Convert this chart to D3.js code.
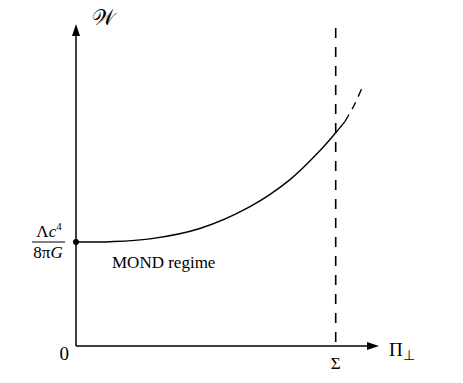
<!DOCTYPE html>
<html>
<head>
<meta charset="utf-8">
<script src="https://cdn.jsdelivr.net/npm/d3@7"></script>
<style>
  body { margin: 0; background: #fff; }
</style>
</head>
<body>
<div id="chart"></div>
<script>
// curve samples (Pi_perp in units of Sigma, W in units of Lambda c^4 / 8 pi G)
var piValues = [0, 0.13, 0.285, 0.477, 0.67, 0.824, 0.94, 1.0, 1.036, 1.07, 1.101];
var wValues  = [1.0, 1.003, 1.03, 1.13, 1.34, 1.6, 1.88, 2.05, 2.16, 2.31, 2.48];
var solidEnd = 1.036;       // after this the curve goes on dashed
var sigmaValue = 1.0;       // the dashed vertical line
var regimeLabel = "MOND regime";

var width = 463, height = 383;
var x = d3.scaleLinear().domain([0, 1]).range([76, 335.7]);
var y = d3.scaleLinear().domain([0, 1]).range([346, 242]);

var svg = d3.select("#chart").append("svg")
    .attr("width", width)
    .attr("height", height);

function label(px, py, size, anchor) {
    return svg.append("text")
        .attr("x", px).attr("y", py)
        .attr("text-anchor", anchor || "start")
        .attr("style", "font-family:'Liberation Serif'; font-size:" + size + "px");
}

// axes with arrow heads
svg.append("line")
    .attr("x1", x(0)).attr("y1", y(0))
    .attr("x2", x(0)).attr("y2", 34)
    .attr("stroke", "#000").attr("stroke-width", 1.5);
svg.append("path")
    .attr("d", "M" + x(0) + ",24 L" + (x(0) - 4) + ",36 L" + (x(0) + 4) + ",36 Z")
    .attr("fill", "#000");

svg.append("line")
    .attr("x1", x(0)).attr("y1", y(0))
    .attr("x2", 368).attr("y2", y(0))
    .attr("stroke", "#000").attr("stroke-width", 1.5);
svg.append("path")
    .attr("d", "M379," + y(0) + " L367," + (y(0) - 4) + " L367," + (y(0) + 4) + " Z")
    .attr("fill", "#000");

// dashed vertical line at Sigma
svg.append("line")
    .attr("x1", x(sigmaValue)).attr("y1", 28)
    .attr("x2", x(sigmaValue)).attr("y2", y(0))
    .attr("stroke", "#000").attr("stroke-width", 1.6)
    .attr("stroke-dasharray", "10,9");

// the curve: solid part, then dashed continuation
var pts = piValues.map(function (p, i) { return [p, wValues[i]]; });
var line = d3.line()
    .x(function (d) { return x(d[0]); })
    .y(function (d) { return y(d[1]); })
    .curve(d3.curveCatmullRom);

var solidPts = pts.filter(function (d) { return d[0] <= solidEnd; });
var dashPts = pts.filter(function (d) { return d[0] >= solidEnd; });

svg.append("path")
    .attr("d", line(solidPts))
    .attr("fill", "none").attr("stroke", "#000").attr("stroke-width", 1.4);
svg.append("path")
    .attr("d", line(dashPts))
    .attr("fill", "none").attr("stroke", "#000").attr("stroke-width", 1.4)
    .attr("stroke-dasharray", "8,6");

svg.append("circle")
    .attr("cx", x(piValues[0])).attr("cy", y(wValues[0]))
    .attr("r", 3).attr("fill", "#000");

// labels
label(69, 360, 19, "end").text("0");
label(x(sigmaValue), 369, 17, "middle").text("Σ");

var piLabel = label(389, 356, 19);
piLabel.append("tspan").text("Π");
piLabel.append("tspan").attr("dy", 4).style("font-size", "14px").text("⊥");

label(92, 25, 22).text("𝒲");

// fraction Lambda c^4 / 8 pi G
var numer = label(49, 237, 17, "middle");
numer.append("tspan").text("Λ");
numer.append("tspan").style("font-style", "italic").text("c");
numer.append("tspan").attr("dy", -7).style("font-size", "11px").text("4");

svg.append("line")
    .attr("x1", 32).attr("x2", 65)
    .attr("y1", y(1)).attr("y2", y(1))
    .attr("stroke", "#000").attr("stroke-width", 1.2);

var denom = label(48, 258, 17, "middle");
denom.append("tspan").text("8π");
denom.append("tspan").style("font-style", "italic").text("G");

label(112, 268, 17).text(regimeLabel);
</script>
</body>
</html>
